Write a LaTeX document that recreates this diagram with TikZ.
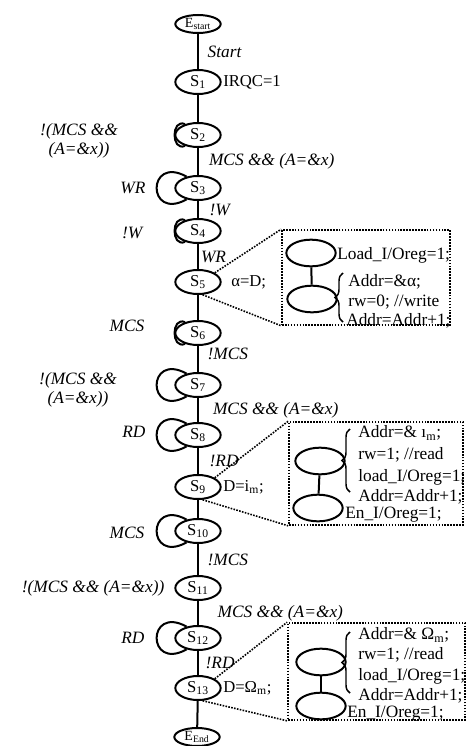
\documentclass[tikz,border=0pt]{standalone}
\usepackage{fontspec}
\setmainfont{Liberation Serif}
\usetikzlibrary{positioning,shapes.geometric,fit,decorations.pathreplacing}

\begin{document}
\begin{tikzpicture}[
    x=0.75pt, y=-0.75pt,
    every node/.append style={font=\fontsize{12.5}{14}\selectfont},
    state/.style={ellipse,draw,line width=1.5pt,fill=white,minimum width=34pt,
                  minimum height=18pt,inner sep=0pt,font=\fontsize{12.5}{13}\selectfont},
    term/.style={state,minimum width=34pt,minimum height=13.5pt,font=\fontsize{10.5}{12}\selectfont},
    blob/.style={ellipse,draw,line width=1.5pt,minimum width=37pt,minimum height=20pt,inner sep=0pt},
    link/.style={line width=1.5pt},
    cond/.style={right=5.5pt,inner sep=1pt,font=\fontsize{13}{14}\selectfont\itshape},
    lab/.style={inner sep=1pt,align=center,font=\fontsize{13}{14}\selectfont\itshape},
    act/.style={inner sep=1pt},
    note/.style={anchor=west,inner sep=0pt,font=\fontsize{13}{14}\selectfont},
    infobox/.style={draw,densely dotted,line width=1.2pt,inner sep=0pt},
    zoomline/.style={densely dotted,line width=1.2pt},
    curly/.style={decorate,decoration={brace,amplitude=6pt},line width=1.1pt}
]
\useasboundingbox (0,0) rectangle (467,746);

% main chain
\node[term] (estart) at (198,24) {E\textsubscript{start}};
\foreach \i/\y in {1/82,2/135,3/188,4/231,5/282,6/333,7/385,8/435,9/487,10/531,11/588,12/638,13/688}
  \node[state] (s\i) at (198,\y) {S\textsubscript{\i}};
\node[term] (eend) at (197,737) {E\textsubscript{End}};

\draw[link] (estart) -- node[cond] {Start} (s1);
\draw[link] (s1) -- (s2);
\draw[link] (s2) -- node[cond,right=6.5pt] {MCS \&\& (A=\&x)} (s3);
\draw[link] (s3) -- node[cond,right=7pt] {!W} (s4);
\draw[link] (s4) -- node[cond,right=0.5pt] {WR} (s5);
\draw[link] (s5) -- (s6);
\draw[link] (s6) -- node[cond,yshift=4pt] {!MCS} (s7);
\draw[link] (s7) -- node[cond,right=9.5pt] {MCS \&\& (A=\&x)} (s8);
\draw[link] (s8) -- node[cond,right=7pt] {!RD} (s9);
\draw[link] (s9) -- (s10);
\draw[link] (s10) -- node[cond] {!MCS} (s11);
\draw[link] (s11) -- node[cond,right=13pt] {MCS \&\& (A=\&x)} (s12);
\draw[link] (s12) -- node[cond,right=4pt] {!RD} (s13);
\draw[link] (s13) -- (eend);

% self loops
\foreach \n in {s3,s7,s8,s10,s12}
  \draw[link] (\n.135) .. controls +(-40,-22) and +(-40,22) .. (\n.225);
\foreach \n in {s2,s4,s6}
  \draw[link] (\n.140) .. controls +(-14,-6) and +(-14,6) .. (\n.220);

% loop conditions
\node[lab] (l2) at (79,141) {!(MCS \&\&\\(A=\&x))};
\node[lab,anchor=east] (l3) at (147,188) {WR};
\node[lab,anchor=east] (l4) at (144,233) {!W};
\node[lab,anchor=east] (l6) at (146,326) {MCS};
\node[lab] (l7) at (78,390) {!(MCS \&\&\\(A=\&x))};
\node[lab,anchor=east] (l8) at (147,432) {RD};
\node[lab,anchor=east] (l10) at (146,533) {MCS};
\node[lab,anchor=east] (l11) at (166,588) {!(MCS \&\& (A=\&x))};
\node[lab,anchor=east] (l12) at (146,638) {RD};

% state actions
\node[act,right=0pt of s1] (a1) {IRQC=1};
\node[act,right=6pt of s5] (a5) {α=D;};
\node[act,right=0pt of s9] (a9) {D=i\textsubscript{m};};
\node[act,right=0pt of s13] (a13) {D=Ω\textsubscript{m};};

% write box
\node[infobox,fit={(282,230) (450,325)}] (box1) {};
\node[blob] (w1) at (311,253) {};
\node[blob] (w2) at (312,299) {};
\draw[link] (w1) -- (w2);
\draw[curly] (343,322) -- (343,273);
\node[note] (t11) at (337,255) {Load\_I/Oreg=1;};
\node[note] (t12) at (348,282) {Addr=\&α;};
\node[note] (t13) at (348,302) {rw=0; //write};
\node[note] (t14) at (346,321) {Addr=Addr+1;};
\draw[zoomline] (s5.north east) -- (box1.north west);
\draw[zoomline] (s5.-70) -- (box1.south west);

% first read box
\node[infobox,fit={(289,422) (463,525)}] (box2) {};
\node[blob] (r1) at (320,461) {};
\node[blob] (r2) at (318,508) {};
\draw[link] (r1) -- (r2);
\draw[curly] (350,492) -- (350,429);
\node[note] (t21) at (358,433) {Addr=\& ı\textsubscript{m};};
\node[note] (t22) at (358,455) {rw=1; //read};
\node[note] (t23) at (358,477) {load\_I/Oreg=1;};
\node[note] (t24) at (358,497) {Addr=Addr+1;};
\node[note] (t25) at (345,515) {En\_I/Oreg=1;};
\draw[zoomline] (s9.north east) -- (box2.north west);
\draw[zoomline] (s9.-70) -- (box2.south west);

% second read box
\node[infobox,fit={(288,623) (465,720)}] (box3) {};
\node[blob] (q1) at (321,662) {};
\node[blob] (q2) at (321,706) {};
\draw[link] (q1) -- (q2);
\draw[curly] (350,693) -- (350,632);
\node[note] (t31) at (358,635) {Addr=\& Ω\textsubscript{m};};
\node[note] (t32) at (358,655) {rw=1; //read};
\node[note] (t33) at (358,676) {load\_I/Oreg=1;};
\node[note] (t34) at (358,696) {Addr=Addr+1;};
\node[note] (t35) at (347,714) {En\_I/Oreg=1;};
\draw[zoomline] (s13.north east) -- (box3.north west);
\draw[zoomline] (s13.-70) -- (box3.south west);
\end{tikzpicture}
\end{document}
